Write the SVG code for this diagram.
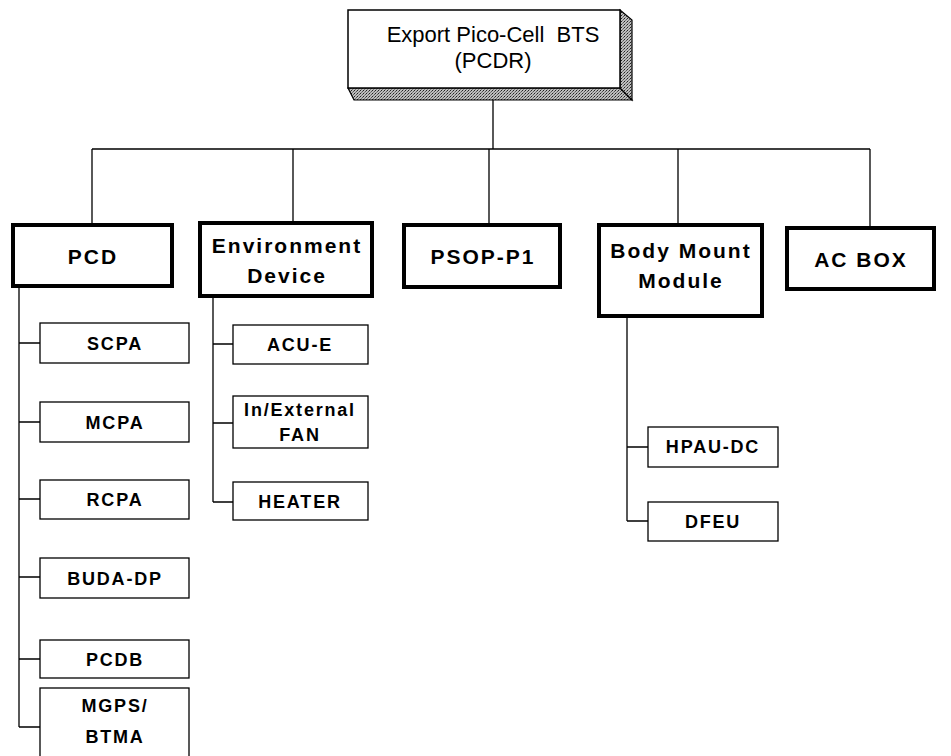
<svg xmlns="http://www.w3.org/2000/svg" width="951" height="756" viewBox="0 0 951 756">
<defs>
<pattern id="dots" width="3" height="3" patternUnits="userSpaceOnUse">
<rect width="3" height="3" fill="#bdbdbd"/>
<rect width="1" height="1" fill="#222"/>
<rect x="2" y="1" width="1" height="1" fill="#555"/>
<rect x="1" y="2" width="1" height="1" fill="#777"/>
</pattern>
</defs>
<style>
.main{fill:#fff;stroke:#000;stroke-width:4}
.sub{fill:#fff;stroke:#000;stroke-width:1.3}
.t1{font-family:"Liberation Sans",Arial,sans-serif;font-weight:bold;font-size:21px;letter-spacing:2px;text-anchor:middle;fill:#000}
.t2{font-family:"Liberation Sans",Arial,sans-serif;font-weight:bold;font-size:18px;letter-spacing:1.8px;text-anchor:middle;fill:#000}
.t0{font-family:"Liberation Sans",Arial,sans-serif;font-size:22px;text-anchor:middle;fill:#000}
.c{fill:none;stroke:#000;stroke-width:1.3}
</style>
<g id="connectors">
<path class="c" d="M493,100 V149 M92,149 H870 M92,149 V225 M293,149 V223 M489,149 V225 M678,149 V225 M870,149 V228"/>
<path class="c" d="M19,287 V727 M19,343 H40 M19,422 H40 M19,499 H40 M19,577 H40 M19,659 H40 M19,727 H40"/>
<path class="c" d="M213,297 V502 M213,344 H233 M213,423 H233 M213,502 H233"/>
<path class="c" d="M627,317 V521 M627,447 H648 M627,521 H648"/>
</g>
<g id="root">
<polygon points="348,88 620,88 632,100 354,100" fill="url(#dots)" stroke="#000" stroke-width="1.2"/>
<polygon points="620,10 632,20 632,100 620,88" fill="url(#dots)" stroke="#000" stroke-width="1.2"/>
<rect x="348" y="10" width="272" height="78" fill="#fff" stroke="#000" stroke-width="1.5"/>
<text class="t0" x="493" y="42" xml:space="preserve">Export Pico-Cell  BTS</text>
<text class="t0" x="493" y="68">(PCDR)</text>
</g>
<g id="pcd"><rect class="main" x="13" y="225" width="159" height="61"/><text class="t1" x="93" y="264">PCD</text></g>
<g id="env"><rect class="main" x="200" y="223" width="172" height="73"/><text class="t1" x="287" y="253">Environment</text><text class="t1" x="287" y="283">Device</text></g>
<g id="psop"><rect class="main" x="404" y="225" width="156" height="62"/><text class="t1" x="483" y="264">PSOP-P1</text></g>
<g id="bmm"><rect class="main" x="599" y="225" width="163" height="91"/><text class="t1" x="681" y="258">Body Mount</text><text class="t1" x="681" y="288">Module</text></g>
<g id="acbox"><rect class="main" x="787" y="228" width="147" height="61"/><text class="t1" x="861" y="267">AC BOX</text></g>
<g id="scpa"><rect class="sub" x="40" y="323" width="149" height="40"/><text class="t2" x="115" y="350">SCPA</text></g>
<g id="mcpa"><rect class="sub" x="40" y="402" width="149" height="40"/><text class="t2" x="115" y="429">MCPA</text></g>
<g id="rcpa"><rect class="sub" x="40" y="480" width="149" height="39"/><text class="t2" x="115" y="506">RCPA</text></g>
<g id="buda"><rect class="sub" x="40" y="558" width="149" height="40"/><text class="t2" x="115" y="585">BUDA-DP</text></g>
<g id="pcdb"><rect class="sub" x="40" y="640" width="149" height="38"/><text class="t2" x="115" y="666">PCDB</text></g>
<g id="mgps"><rect class="sub" x="40" y="688" width="149" height="70"/><text class="t2" x="115" y="712">MGPS/</text><text class="t2" x="115" y="743">BTMA</text></g>
<g id="acue"><rect class="sub" x="233" y="325" width="135" height="39"/><text class="t2" x="300" y="351">ACU-E</text></g>
<g id="fan"><rect class="sub" x="233" y="396" width="135" height="52"/><text class="t2" x="300" y="416">In/External</text><text class="t2" x="300" y="441">FAN</text></g>
<g id="heater"><rect class="sub" x="233" y="482" width="135" height="38"/><text class="t2" x="300" y="508">HEATER</text></g>
<g id="hpau"><rect class="sub" x="648" y="427" width="130" height="40"/><text class="t2" x="713" y="453">HPAU-DC</text></g>
<g id="dfeu"><rect class="sub" x="648" y="502" width="130" height="39"/><text class="t2" x="713" y="528">DFEU</text></g>
</svg>
